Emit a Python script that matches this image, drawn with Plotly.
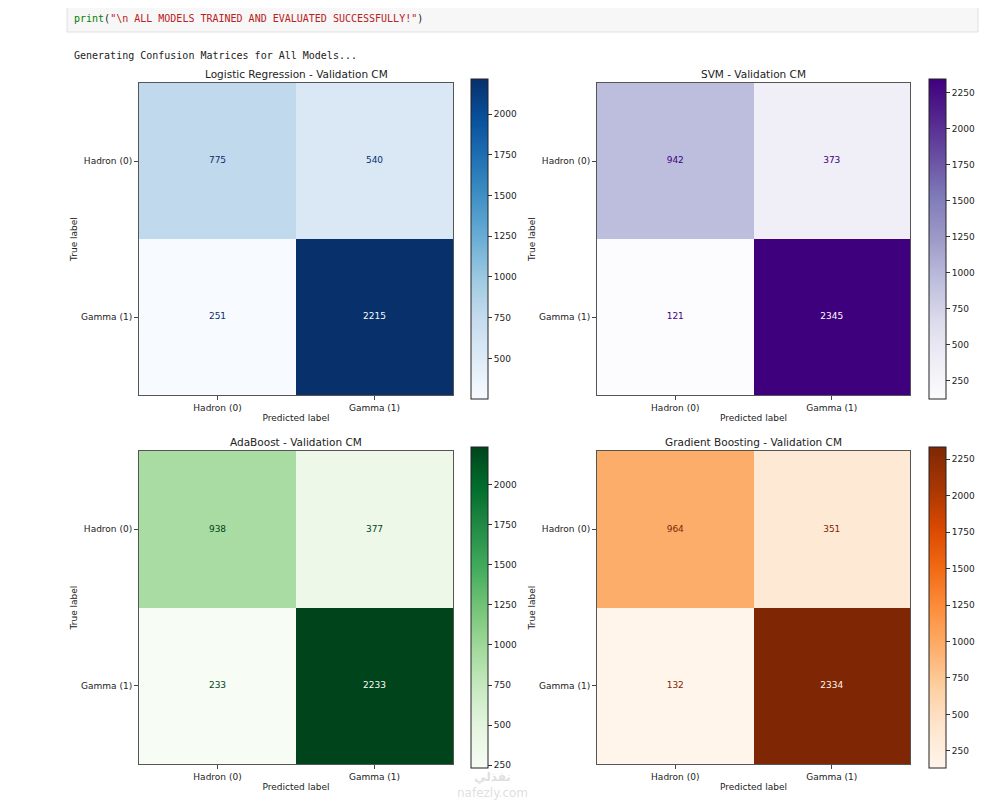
import plotly.graph_objects as go
import plotly.colors as pc

# browser page is 987x811 but the body has an 8px margin, so the figure is a bit smaller
W, H = 987, 811
OFF = 8
FW, FH = W - 2 * OFF, H - 2 * OFF

# confusion matrices, rows = true label, cols = predicted label
labels = ["Hadron (0)", "Gamma (1)"]
model_names = ["Logistic Regression", "SVM", "AdaBoost", "Gradient Boosting"]
cm_logreg = [[775, 540], [251, 2215]]
cm_svm = [[942, 373], [121, 2345]]
cm_ada = [[938, 377], [233, 2233]]
cm_gb = [[964, 351], [132, 2334]]
matrices = [cm_logreg, cm_svm, cm_ada, cm_gb]
scales = [pc.sequential.Blues, pc.sequential.Purples, pc.sequential.Greens, pc.sequential.Oranges]

# pixel boxes of each panel (page coords): left, top, right, bottom of heatmap, colorbar left
panels = [
    (139, 83, 453, 395, 471),
    (597, 83, 910, 395, 929),
    (139, 451, 453, 764, 471),
    (597, 451, 910, 764, 929),
]


def px_x(x):
    return (x - OFF) / FW


def px_y(y):
    return 1 - (y - OFF) / FH


FONT = "DejaVu Sans"
fig = go.Figure()
annotations = []
layout = {}

for i, (name, cm, cs, box) in enumerate(zip(model_names, matrices, scales, panels)):
    n = "" if i == 0 else str(i + 1)
    left, top, right, bottom, cb_left = box
    flat = [v for row in cm for v in row]
    vmin, vmax = min(flat), max(flat)
    thresh = (vmin + vmax) / 2

    fig.add_trace(go.Heatmap(
        z=cm, x=labels, y=labels, coloraxis="coloraxis" + n,
        xaxis="x" + n, yaxis="y" + n, hoverinfo="z",
    ))
    # cell counts, dark text on light cells and light text on dark cells
    xs, ys, txt, cols = [], [], [], []
    for r, row in enumerate(cm):
        for c, v in enumerate(row):
            xs.append(labels[c])
            ys.append(labels[r])
            txt.append(str(v))
            cols.append(cs[-1] if v < thresh else cs[0])
    fig.add_trace(go.Scatter(
        x=xs, y=ys, text=txt, mode="text", xaxis="x" + n, yaxis="y" + n,
        textfont=dict(family=FONT, size=9, color=cols), hoverinfo="skip", showlegend=False,
    ))

    layout["coloraxis" + n] = dict(
        colorscale=cs, cmin=vmin, cmax=vmax,
        colorbar=dict(
            x=px_x(cb_left), xanchor="left", y=px_y(top - 4), yanchor="top",
            len=(bottom - top + 8) / FH, lenmode="fraction", thickness=17,
            xpad=0, ypad=0, outlinewidth=1, outlinecolor="#222",
            tick0=0, dtick=250, ticks="outside", ticklen=4, tickcolor="#333",
            tickformat="d", tickfont=dict(family=FONT, size=9, color="#222"),
        ),
    )
    layout["xaxis" + n] = dict(
        domain=[px_x(left), px_x(right)], anchor="y" + n, type="category",
        showgrid=False, zeroline=False, showline=True, mirror=True,
        linecolor="#555", linewidth=1, ticks="outside", ticklen=4, tickcolor="#444",
        tickfont=dict(family=FONT, size=9, color="#222"),
        title=dict(text="Predicted label", font=dict(family=FONT, size=9, color="#222"), standoff=2),
        range=[-0.5, 1.5],
    )
    layout["yaxis" + n] = dict(
        domain=[px_y(bottom), px_y(top)], anchor="x" + n, type="category",
        showgrid=False, zeroline=False, showline=True, mirror=True,
        linecolor="#555", linewidth=1, ticks="outside", ticklen=4, tickcolor="#444",
        tickfont=dict(family=FONT, size=9, color="#222"),
        title=dict(text="True label", font=dict(family=FONT, size=9, color="#222"), standoff=1),
        range=[1.5, -0.5],
    )
    annotations.append(dict(
        text=f"{name} - Validation CM", x=px_x((left + right) / 2), y=px_y(top - 9),
        xref="paper", yref="paper", showarrow=False, xanchor="center", yanchor="middle",
        font=dict(family=FONT, size=10.5, color="#222"),
    ))

# notebook cell text above the figure
code_line = ("<span style='color:#008000'>print</span>("
             "<span style='color:#ba2121'>\"\\n ALL MODELS TRAINED AND EVALUATED SUCCESSFULLY!\"</span>)")
annotations.append(dict(
    text=code_line, x=px_x(72), y=px_y(19), xref="paper", yref="paper", showarrow=False,
    xanchor="left", yanchor="middle", font=dict(family="DejaVu Sans Mono", size=10, color="#222"),
))
annotations.append(dict(
    text="Generating Confusion Matrices for All Models...", x=px_x(72), y=px_y(56),
    xref="paper", yref="paper", showarrow=False, xanchor="left", yanchor="middle",
    font=dict(family="DejaVu Sans Mono", size=10, color="#222"),
))
# faint site watermark, kept just below the colorbar labels
annotations.append(dict(
    text="<b>نفذلي</b><br>nafezly.com", x=px_x(492), y=px_y(802), xref="paper", yref="paper",
    showarrow=False, yanchor="bottom",
    font=dict(family="DejaVu Sans", size=12, color="rgba(195,195,195,0.55)"),
))

fig.update_layout(
    width=FW, height=FH, margin=dict(l=0, r=0, t=0, b=0),
    paper_bgcolor="white", plot_bgcolor="white", showlegend=False,
    annotations=annotations,
    shapes=[dict(type="rect", xref="paper", yref="paper", x0=px_x(67), x1=px_x(978),
                 y0=px_y(32), y1=1.01, fillcolor="#f7f7f7", line=dict(color="#e0e0e0", width=1),
                 layer="below")],
    **layout,
)

fig.write_html("out.html")
